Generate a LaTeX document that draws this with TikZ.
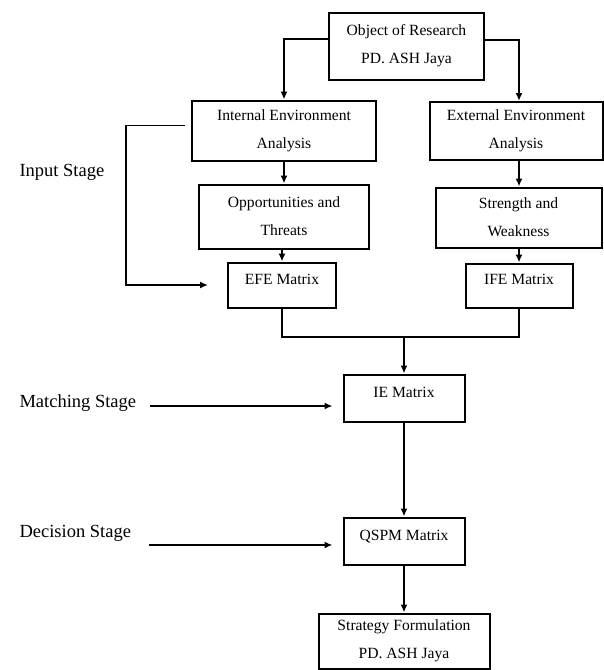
\documentclass[tikz,border=0pt]{standalone}
\usepackage{fontspec}
\setmainfont{Liberation Serif}
\usetikzlibrary{arrows.meta}

\begin{document}
\begin{tikzpicture}[x=1pt,y=-1pt,
        box/.style={draw,line width=2pt,align=center,inner sep=0pt,font=\fontsize{15.6}{28}\selectfont},
        matbox/.style={box,text height=11pt,text depth=13pt},
        stage/.style={anchor=base west,font=\fontsize{18.5}{22}\selectfont},
        arr/.style={line width=1.6pt,-{Latex[length=8pt,width=7pt]}},
        line/.style={line width=1.6pt}]
        \useasboundingbox (0,0) rectangle (604,670);
        % boxes
        \node[box,minimum width=155pt,minimum height=67pt] (obj) at (406.5,46) {Object of Research\\PD. ASH Jaya};
        \node[box,minimum width=184pt,minimum height=60pt] (int) at (284,130.5) {Internal Environment\\Analysis};
        \node[box,minimum width=173pt,minimum height=58pt] (ext) at (516,131) {External Environment\\Analysis};
        \node[box,minimum width=170pt,minimum height=64pt] (opp) at (284,216.5) {Opportunities and\\Threats};
        \node[box,minimum width=166pt,minimum height=60pt] (str) at (518.5,217.5) {Strength and\\Weakness};
        \node[matbox,minimum width=108pt,minimum height=45pt] (efe) at (282,285) {EFE Matrix};
        \node[matbox,minimum width=107pt,minimum height=44pt] (ife) at (519,285.5) {IFE Matrix};
        \node[matbox,minimum width=121pt,minimum height=47pt] (ie) at (404,398) {IE Matrix};
        \node[matbox,minimum width=121pt,minimum height=47pt] (qspm) at (404,541) {QSPM Matrix};
        \node[box,minimum width=171pt,minimum height=55pt] (strat) at (404,641) {Strategy Formulation\\PD. ASH Jaya};
        % stages
        \node[stage] (input) at (16,176) {Input Stage};
        \node[stage] (match) at (16,407) {Matching Stage};
        \node[stage] (decide) at (16,537) {Decision Stage};
        \coordinate (bend) at (126,285);
        \coordinate (junc) at (404,337);
        \coordinate (mstart) at (150,406);
        \coordinate (dstart) at (149,545);
        % arrows
        \draw[arr] ([yshift=7pt]obj.west) -| (int.north);
        \draw[arr] ([yshift=6pt]obj.east) -| (ext.north -| ife.north);
        \draw[arr] (int.south) -- (opp.north);
        \draw[arr] (ext.south -| ife.north) -- (str.north -| ife.north);
        \draw[arr] (opp.south -| efe.north) -- (efe.north);
        \draw[arr] (str.south -| ife.north) -- (ife.north);
        \draw[arr] ([xshift=-6pt,yshift=5pt]int.west) -| (bend) -- ([xshift=-19pt]efe.west);
        \draw[line] (efe.south) |- (junc) -| (ife.south);
        \draw[arr] (junc) -- (ie.north);
        \draw[arr] (mstart) -- ([xshift=-10pt]ie.west |- mstart);
        \draw[arr] (ie.south) -- (qspm.north);
        \draw[arr] (dstart) -- ([xshift=-10pt]qspm.west |- dstart);
        \draw[arr] (qspm.south) -- (strat.north);
\end{tikzpicture}
\end{document}
